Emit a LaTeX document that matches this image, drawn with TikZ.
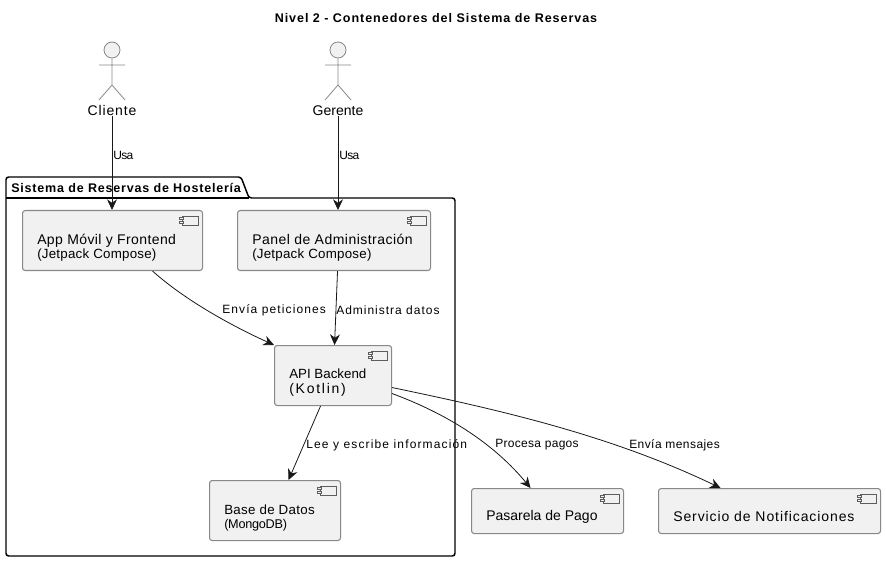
\documentclass[tikz,border=0pt]{standalone}
\usepackage{fontspec}
\setmainfont{Liberation Sans}
\usepackage{xcolor}
\usetikzlibrary{arrows.meta,positioning,calc}
\definecolor{cfill}{RGB}{241,241,241}
\definecolor{cdraw}{RGB}{136,136,136}
\definecolor{cline}{RGB}{24,24,24}
\newcommand{\ls}[1]{\addfontfeatures{LetterSpace=#1}}
\tikzset{
  comp/.style  ={rectangle, rounded corners=2pt, draw=cdraw, fill=cfill, line width=.8pt,
                 anchor=north west, inner sep=0pt},
  icon/.style  ={rectangle, draw=cline!70, fill=cfill, line width=.5pt, inner sep=0pt,
                 minimum width=12pt, minimum height=6.75pt},
  nib/.style   ={rectangle, draw=cline!70, fill=cfill, line width=.5pt, inner sep=0pt,
                 minimum width=3pt, minimum height=1.8pt},
  stick/.style ={draw=cdraw, line width=.6pt},
  head/.style  ={circle, draw=cdraw, fill=cfill, line width=.6pt, inner sep=0pt, minimum size=12pt},
  ar/.style    ={-{Stealth[length=8pt, width=7.5pt, inset=2.6pt]}, draw=cline, line width=.6pt},
  lbl/.style   ={font=\fontsize{9}{11}\selectfont, anchor=west, inner sep=0pt, text=black},
  actorlbl/.style={font=\fontsize{10.5}{12}\selectfont, inner sep=0pt, anchor=base},
  body/.style  ={font=\fontsize{10.5}{12}\selectfont, anchor=west, align=left, inner sep=0pt}
}
\newcommand{\actor}[3]{%
  \node[head] (#1head) at (#2,50) {};
  \coordinate (#1hip) at (#2,85);
  \coordinate (#1lfoot) at (#2-13,100);
  \coordinate (#1rfoot) at (#2+13,100);
  \coordinate (#1larm) at (#2-13,65);
  \coordinate (#1rarm) at (#2+13,65);
  \draw[stick] (#1head) -- (#1hip) (#1larm) -- (#1rarm)
    (#1lfoot) -- (#1hip) -- (#1rfoot);
  \node[actorlbl] (#1) at (#2,115.5) {#3};
}
\begin{document}
\begin{tikzpicture}[x=.75pt,y=-.75pt]
\useasboundingbox (0,0) rectangle (886,563);
\node[font=\fontsize{9.4}{11}\selectfont\bfseries] (title) at (436,18.5) {\ls{7.6}Nivel 2 - Contenedores del Sistema de Reservas};

% paquete
\draw[black, line width=1.1pt, rounded corners=2pt] (6,198) -- (6,177) -- (241,177) -- (249,198) -- (455,198) -- (455,556) -- (6,556) -- cycle;
\draw[black, line width=1.1pt] (6,198) -- (249,198);
\node[font=\fontsize{9.4}{11}\selectfont\bfseries, anchor=west, inner sep=0pt] (pkg) at (11,188) {\ls{6.3}Sistema de Reservas de Hostelería};

% actores
\actor{cliente}{112}{\ls{6}Cliente}
\actor{gerente}{338}{Gerente}

% componentes
\node[comp, minimum width=135pt, minimum height=45pt] (app) at (22,210) {};
\node[body] (apptxt) at (37,247.5) {{\ls{2.9}App Móvil y Frontend}\\[-1.2pt]\fontsize{10}{12}\selectfont\ls{1.8}(Jetpack Compose)};
\node[comp, minimum width=144.75pt, minimum height=45pt] (panel) at (237,210) {};
\node[body] (paneltxt) at (252,247.5) {{\ls{3.4}Panel de Administración}\\[-1.2pt]\fontsize{10}{12}\selectfont\ls{1.8}(Jetpack Compose)};
\node[comp, minimum width=87.75pt, minimum height=45pt] (api) at (274,345) {};
\node[body] (apitxt) at (289,383) {\fontsize{10}{12}\selectfont API Backend\\[-.8pt]\ls{12.5}(Kotlin)};
\node[comp, minimum width=98.25pt, minimum height=45pt] (db) at (209,480) {};
\node[body] (dbtxt) at (224,518) {\fontsize{10}{12}\selectfont\ls{2.3}Base de Datos\\[-.8pt]\fontsize{9.5}{12}\selectfont\ls{-2}(MongoDB)};
\node[comp, minimum width=114pt, minimum height=33.75pt] (pago) at (471,488) {};
\node[body] (pagotxt) at (486,517) {Pasarela de Pago};
\node[comp, minimum width=166.5pt, minimum height=33.75pt] (notif) at (658,488) {};
\node[body] (notiftxt) at (673,516) {\ls{6.5}Servicio de Notificaciones};

\foreach \c in {app,panel,api,db,pago,notif}{
  \node[icon] (\c icon) at ($(\c.north east)+(-13,10.5)$) {};
  \node[nib] at ($(\c icon.west)+(0,2)$) {};
  \node[nib] at ($(\c icon.west)+(0,-2)$) {};
}

% relaciones
\draw[ar] (cliente.south) -- (app.north -| cliente.south);
\draw[ar] (gerente.south) -- (panel.north -| gerente.south);
\draw[ar] ($(app.south)+(40,0)$) .. controls (185,300) and (230,325) .. (api.north west);
\draw[ar] ($(panel.south)+(3.5,0)$) -- ($(api.north)+(1.5,0)$);
\draw[ar] ($(api.south)+(-12.5,0)$) -- ($(db.north)+(13.5,0)$);
\draw[ar] ($(api.east)+(0,18)$) .. controls (450,415) and (495,445) .. ($(pago.north)+(-17,0)$);
\draw[ar] ($(api.east)+(0,12)$) .. controls (500,410) and (610,435) .. ($(notif.north)+(-49,0)$);

\node[lbl] (usa1) at (113,155.5) {\ls{-5.5}Usa};
\node[lbl] (usa2) at (339,155.5) {\ls{-5.5}Usa};
\node[lbl] (peticiones) at (222,310) {\ls{9.3}Envía peticiones};
\node[lbl] (admin) at (336,310) {\ls{8.3}Administra datos};
\node[lbl] (lee) at (306,445) {\ls{9.6}Lee y escribe información};
\node[lbl] (pagos) at (495,445) {\ls{2.6}Procesa pagos};
\node[lbl] (mensajes) at (629,445) {\ls{3.6}Envía mensajes};
\end{tikzpicture}
\end{document}
